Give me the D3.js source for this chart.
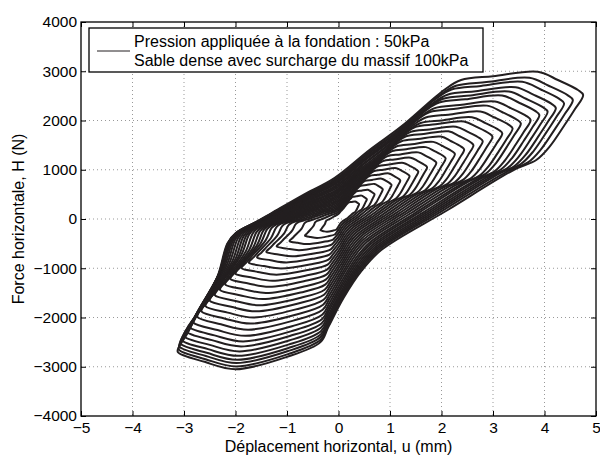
<!DOCTYPE html>
<html>
<head>
<meta charset="utf-8">
<script src="https://cdn.jsdelivr.net/npm/d3@7"></script>
<style>
  body { margin: 0; background: #fff; }
  text { font-family: "Liberation Sans", Arial, sans-serif; fill: #000; }
</style>
</head>
<body>
<div id="chart"></div>
<script>
// peaks of each cycle, from the inner loop to the outer one (u in mm, H in N)
const uPos = [0.40, 0.55, 0.70, 0.86, 1.03, 1.20, 1.38, 1.55, 1.72, 1.90, 2.08, 2.26, 2.44,
              2.62, 2.80, 2.99, 3.18, 3.38, 3.54, 3.73, 3.90, 4.06, 4.22, 4.38, 4.55, 4.75];
const hPos = [300, 400, 500, 600, 690, 780, 870, 960, 1050, 1140, 1230, 1320, 1410,
              1500, 1580, 1670, 1740, 1840, 1940, 2010, 2112, 2180, 2254, 2348, 2416, 2520];
const uNeg = [-0.35, -0.65, -0.95, -1.20, -1.40, -1.58, -1.74, -1.88, -2.00, -2.10, -2.20, -2.30, -2.40,
              -2.50, -2.58, -2.66, -2.74, -2.82, -2.89, -2.95, -3.00, -3.04, -3.07, -3.09, -3.10, -3.12];
const hNeg = [-230, -340, -450, -560, -670, -780, -890, -1000, -1110, -1220, -1330, -1440, -1550,
              -1660, -1770, -1880, -1990, -2100, -2200, -2290, -2380, -2460, -2530, -2590, -2650, -2700];

// outline of the outer cycle (starts at the positive tip, unloading first)
const loopU = [4.75, 4.58, 4.39, 4.10, 3.84, 3.40, 2.12, 0.83, 0.45, 0.10, -0.20, -0.35, -1.00, -2.00,
               -2.60, -3.12, -3.10, -2.95, -2.78, -2.35, -2.16, -2.00, -1.60, -1.30, -0.70, -0.08,
               0.60, 1.21, 2.05, 2.38, 3.00, 3.87, 4.26, 4.65];
const loopH = [2520, 2213, 1909, 1470, 1198, 995, 183, -630, -1050, -1600, -2200, -2500, -2800, -3050,
               -2900, -2700, -2600, -2350, -2010, -1170, -500, -290, -60, 120, 480, 830,
               1400, 1870, 2620, 2822, 2900, 2990, 2822, 2619];

const xTicks = [-5, -4, -3, -2, -1, 0, 1, 2, 3, 4, 5];
const yTicks = [-4000, -3000, -2000, -1000, 0, 1000, 2000, 3000, 4000];
const legendLines = ["Pression appliquée à la fondation : 50kPa",
                     "Sable dense avec surcharge du massif 100kPa"];

const W = 600, H = 455;
const margin = {top: 22, right: 4, bottom: 39, left: 81};
const width = W - margin.left - margin.right,
      height = H - margin.top - margin.bottom;

const svg = d3.select("#chart")
  .append("svg")
    .attr("width", W)
    .attr("height", H)
  .append("g")
    .attr("transform", `translate(${margin.left},${margin.top})`);

const x = d3.scaleLinear().domain([-5, 5]).range([0, width]);
const y = d3.scaleLinear().domain([-4000, 4000]).range([height, 0]);

const fmt = d => String(d).replace("-", "\u2212");

// dotted grid
svg.append("g")
  .selectAll("line")
  .data(xTicks.slice(1, -1))
  .join("line")
    .attr("x1", d => x(d)).attr("x2", d => x(d))
    .attr("y1", 0).attr("y2", height)
    .attr("stroke", "#999").attr("stroke-dasharray", "1,3");
svg.append("g")
  .selectAll("line")
  .data(yTicks.slice(1, -1))
  .join("line")
    .attr("y1", d => y(d)).attr("y2", d => y(d))
    .attr("x1", 0).attr("x2", width)
    .attr("stroke", "#999").attr("stroke-dasharray", "1,3");

// loops
const refU = uPos[uPos.length - 1], refH = hPos[hPos.length - 1];
const refUn = uNeg[uNeg.length - 1], refHn = hNeg[hNeg.length - 1];
const line = d3.line()
  .x(d => x(d[0]))
  .y(d => y(d[1]))
  .curve(d3.curveCatmullRomClosed.alpha(0.5));

const loops = uPos.map((up, i) => loopU.map((u, j) => {
  const h = loopH[j];
  return [u >= 0 ? u * up / refU : u * uNeg[i] / refUn,
          h >= 0 ? h * hPos[i] / refH : h * hNeg[i] / refHn];
}));

svg.append("g")
  .selectAll("path")
  .data(loops)
  .join("path")
    .attr("d", line)
    .attr("fill", "none")
    .attr("stroke", "#231f20")
    .attr("stroke-width", 2)
    .attr("stroke-linejoin", "round");

// axes, ticks inside, box all around
const tick = 5;
svg.append("g")
  .attr("transform", `translate(0,${height})`)
  .call(d3.axisBottom(x).tickValues(xTicks).tickSize(-tick).tickPadding(6).tickFormat(fmt))
  .call(g => g.select(".domain").remove());
svg.append("g")
  .call(d3.axisTop(x).tickValues(xTicks).tickSize(-tick).tickFormat(""))
  .call(g => g.select(".domain").remove());
svg.append("g")
  .call(d3.axisLeft(y).tickValues(yTicks).tickSize(-tick).tickPadding(4).tickFormat(fmt))
  .call(g => g.select(".domain").remove());
svg.append("g")
  .attr("transform", `translate(${width},0)`)
  .call(d3.axisRight(y).tickValues(yTicks).tickSize(-tick).tickFormat(""))
  .call(g => g.select(".domain").remove());
svg.selectAll(".tick line").attr("stroke", "#000");
svg.selectAll(".tick text")
  .style("font-size", "15.5px")
  .style("font-family", "Liberation Sans, Arial, sans-serif");

svg.append("rect")
  .attr("width", width).attr("height", height)
  .attr("fill", "none").attr("stroke", "#000").attr("stroke-width", 1.3);

// axis titles
svg.append("text")
  .attr("x", x(0))
  .attr("y", height + 36)
  .attr("text-anchor", "middle")
  .style("font-size", "16px")
  .text("Déplacement horizontal, u (mm)");
svg.append("text")
  .attr("transform", "rotate(-90)")
  .attr("x", -y(0))
  .attr("y", -57)
  .attr("text-anchor", "middle")
  .style("font-size", "16px")
  .text("Force horizontale, H (N)");

// legend
const lg = svg.append("g").attr("transform", "translate(8,6)");
lg.append("rect")
  .attr("width", 394).attr("height", 44)
  .attr("fill", "#fff").attr("stroke", "#000").attr("stroke-width", 1.3);
lg.append("line")
  .attr("x1", 8).attr("x2", 41).attr("y1", 23).attr("y2", 23)
  .attr("stroke", "#231f20").attr("stroke-width", 1);
lg.selectAll("text")
  .data(legendLines)
  .join("text")
    .attr("x", 45)
    .attr("y", (d, i) => 19 + i * 19)
    .style("font-size", "16px")
    .text(d => d);
</script>
</body>
</html>
